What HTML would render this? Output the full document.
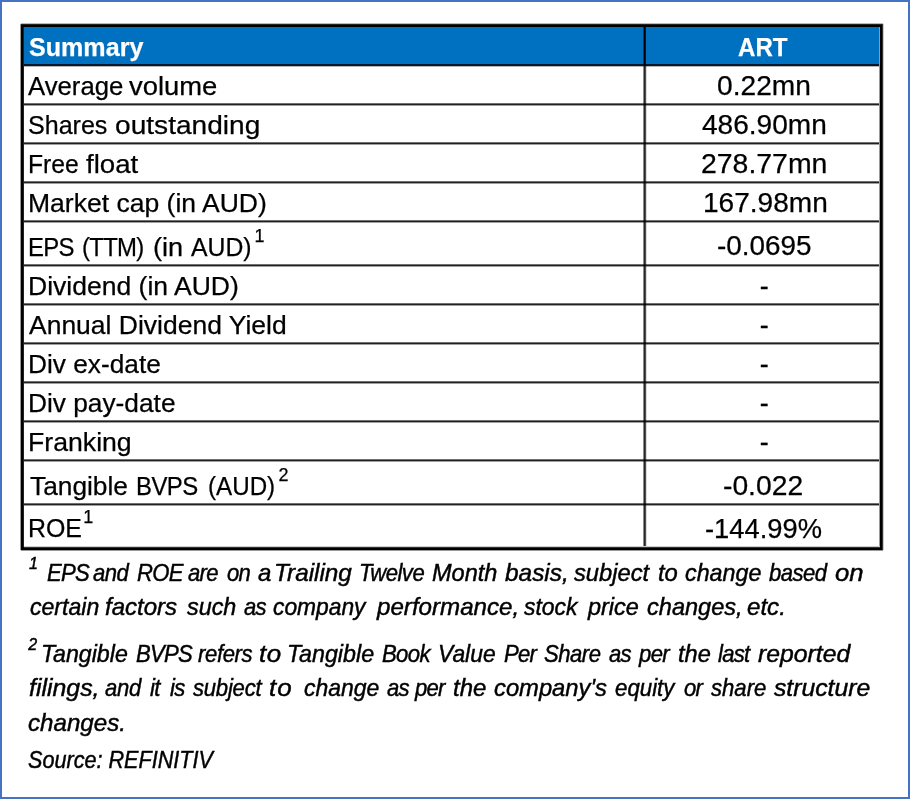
<!DOCTYPE html><html><head><meta charset="utf-8"><style>
html,body{margin:0;padding:0;background:#fff;}
body{width:910px;height:799px;position:relative;overflow:hidden;font-family:"Liberation Sans", sans-serif;color:#000;}
div{position:absolute;box-sizing:border-box;}
.ln{mix-blend-mode:multiply;}
.t{white-space:nowrap;line-height:30px;-webkit-text-stroke:0.25px currentColor;}
.hl{left:24px;width:856px;height:2px;background:#1e1e1e;}
</style></head><body>
<div style="left:0;top:0;width:910px;height:799px;border:2px solid #4472C4;"></div>
<div style="left:24px;top:27px;width:856px;height:37px;background:#0070C0;"></div>
<div class="ln" style="left:24px;top:103px;width:856px;height:3px;background:linear-gradient(#707070 0 1px,#202020 1px 2px,#a0a0a0 2px 3px);"></div>
<div class="ln" style="left:24px;top:142px;width:856px;height:3px;background:linear-gradient(#707070 0 1px,#202020 1px 2px,#a0a0a0 2px 3px);"></div>
<div class="ln" style="left:24px;top:181px;width:856px;height:3px;background:linear-gradient(#707070 0 1px,#202020 1px 2px,#a0a0a0 2px 3px);"></div>
<div class="ln" style="left:24px;top:220px;width:856px;height:3px;background:linear-gradient(#707070 0 1px,#202020 1px 2px,#a0a0a0 2px 3px);"></div>
<div class="ln" style="left:24px;top:264px;width:856px;height:3px;background:linear-gradient(#707070 0 1px,#202020 1px 2px,#a0a0a0 2px 3px);"></div>
<div class="ln" style="left:24px;top:303px;width:856px;height:3px;background:linear-gradient(#707070 0 1px,#202020 1px 2px,#a0a0a0 2px 3px);"></div>
<div class="ln" style="left:24px;top:342px;width:856px;height:3px;background:linear-gradient(#707070 0 1px,#202020 1px 2px,#a0a0a0 2px 3px);"></div>
<div class="ln" style="left:24px;top:381px;width:856px;height:3px;background:linear-gradient(#707070 0 1px,#202020 1px 2px,#a0a0a0 2px 3px);"></div>
<div class="ln" style="left:24px;top:420px;width:856px;height:3px;background:linear-gradient(#707070 0 1px,#202020 1px 2px,#a0a0a0 2px 3px);"></div>
<div class="ln" style="left:24px;top:459px;width:856px;height:3px;background:linear-gradient(#707070 0 1px,#202020 1px 2px,#a0a0a0 2px 3px);"></div>
<div class="ln" style="left:24px;top:503px;width:856px;height:3px;background:linear-gradient(#707070 0 1px,#202020 1px 2px,#a0a0a0 2px 3px);"></div>
<div class="ln" style="left:643px;top:64px;width:4px;height:483px;background:linear-gradient(90deg,#8c8c8c 0 1px,#262626 1px 2px,#505050 2px 3px,#dcdcdc 3px 4px);"></div>
<div style="left:643px;top:27px;width:3px;height:37px;background:linear-gradient(90deg,#003a66 0 1px,#000 1px 2px,#001a30 2px 3px);"></div>
<div class="ln" style="left:24px;top:64px;width:856px;height:3px;background:linear-gradient(#00182f 0 1px,#141414 1px 2px,#b8b4b2 2px 3px);"></div>
<div style="left:21px;top:24px;width:862px;height:526px;border:3px solid #000;"></div>
<div style="left:23px;top:27px;width:1px;height:520px;background:#222;"></div>
<div style="left:20px;top:24px;width:1px;height:526px;background:#999;"></div>
<div style="left:21px;top:23px;width:862px;height:1px;background:#bbb;"></div>
<div style="left:21px;top:24px;width:862px;height:1px;background:#222;"></div>
<div style="left:879px;top:27px;width:1px;height:520px;background:#999;"></div>
<div style="left:882px;top:24px;width:1px;height:526px;background:#333;"></div>
<div style="left:883px;top:24px;width:1px;height:526px;background:#ccc;"></div>
<div style="left:24px;top:546px;width:856px;height:1px;background:#ccc;"></div>
<div style="left:24px;top:547px;width:856px;height:1px;background:#333;"></div>
<div style="left:21px;top:550px;width:862px;height:1px;background:#999;"></div>
<div class="t" style="left:28.10px;top:70.80px;font-size:26.00px;letter-spacing:0.000px;transform:scaleX(0.9895);transform-origin:0 50%;">Average</div>
<div class="t" style="left:129.20px;top:70.80px;font-size:26.00px;letter-spacing:0.000px;transform:scaleX(1.0533);transform-origin:0 50%;">volume</div>
<div class="t" style="left:28.44px;top:109.80px;font-size:26.00px;letter-spacing:0.000px;transform:scaleX(0.9634);transform-origin:0 50%;">Shares</div>
<div class="t" style="left:115.22px;top:109.80px;font-size:26.00px;letter-spacing:0.015px;transform:scaleX(1.0800);transform-origin:0 50%;">outstanding</div>
<div class="t" style="left:28.30px;top:148.80px;font-size:26.00px;letter-spacing:0.000px;transform:scaleX(0.9490);transform-origin:0 50%;">Free</div>
<div class="t" style="left:86.30px;top:148.80px;font-size:26.00px;letter-spacing:0.000px;transform:scaleX(1.0637);transform-origin:0 50%;">float</div>
<div class="t" style="left:27.98px;top:187.80px;font-size:26.00px;letter-spacing:0.000px;transform:scaleX(1.0204);transform-origin:0 50%;">Market cap (in AUD)</div>
<div class="t" style="left:28.36px;top:231.80px;font-size:26.00px;letter-spacing:-0.800px;transform:scaleX(0.9200);transform-origin:0 50%;">EPS</div>
<div class="t" style="left:82.28px;top:231.80px;font-size:26.00px;letter-spacing:-0.748px;transform:scaleX(0.9200);transform-origin:0 50%;">(TTM)</div>
<div class="t" style="left:153.40px;top:231.80px;font-size:26.00px;letter-spacing:0.000px;transform:scaleX(1.0441);transform-origin:0 50%;">(in</div>
<div class="t" style="left:190.80px;top:231.80px;font-size:26.00px;letter-spacing:0.000px;transform:scaleX(0.9540);transform-origin:0 50%;">AUD)</div>
<div class="t" style="left:27.98px;top:270.80px;font-size:26.00px;letter-spacing:0.000px;transform:scaleX(1.0203);transform-origin:0 50%;">Dividend (in AUD)</div>
<div class="t" style="left:28.82px;top:309.80px;font-size:26.00px;letter-spacing:0.000px;transform:scaleX(1.0185);transform-origin:0 50%;">Annual Dividend Yield</div>
<div class="t" style="left:27.98px;top:348.80px;font-size:26.00px;letter-spacing:0.000px;transform:scaleX(1.0099);transform-origin:0 50%;">Div ex-date</div>
<div class="t" style="left:27.98px;top:387.80px;font-size:26.00px;letter-spacing:0.000px;transform:scaleX(1.0105);transform-origin:0 50%;">Div pay-date</div>
<div class="t" style="left:27.94px;top:426.80px;font-size:26.00px;letter-spacing:0.000px;transform:scaleX(1.0251);transform-origin:0 50%;">Franking</div>
<div class="t" style="left:30.20px;top:470.80px;font-size:26.00px;letter-spacing:0.000px;transform:scaleX(1.0115);transform-origin:0 50%;">Tangible</div>
<div class="t" style="left:135.86px;top:470.80px;font-size:26.00px;letter-spacing:-0.603px;transform:scaleX(0.9200);transform-origin:0 50%;">BVPS</div>
<div class="t" style="left:208.27px;top:470.80px;font-size:26.00px;letter-spacing:0.000px;transform:scaleX(0.9298);transform-origin:0 50%;">(AUD)</div>
<div class="t" style="left:28.11px;top:512.80px;font-size:26.00px;letter-spacing:0.000px;transform:scaleX(0.9576);transform-origin:0 50%;">ROE</div>
<div class="t" style="left:717.19px;top:70.80px;font-size:27.00px;letter-spacing:0.000px;transform:scaleX(1.0424);transform-origin:0 50%;">0.22mn</div>
<div class="t" style="left:702.00px;top:109.80px;font-size:27.00px;letter-spacing:0.000px;transform:scaleX(1.0389);transform-origin:0 50%;">486.90mn</div>
<div class="t" style="left:701.18px;top:148.80px;font-size:27.00px;letter-spacing:0.000px;transform:scaleX(1.0523);transform-origin:0 50%;">278.77mn</div>
<div class="t" style="left:702.78px;top:187.80px;font-size:27.00px;letter-spacing:0.000px;transform:scaleX(1.0388);transform-origin:0 50%;">167.98mn</div>
<div class="t" style="left:716.59px;top:231.30px;font-size:27.00px;letter-spacing:0.000px;transform:scaleX(1.0324);transform-origin:0 50%;">-0.0695</div>
<div class="t" style="left:759.69px;top:270.80px;font-size:27.00px;letter-spacing:0.000px;">-</div>
<div class="t" style="left:759.69px;top:309.80px;font-size:27.00px;letter-spacing:0.000px;">-</div>
<div class="t" style="left:759.69px;top:348.80px;font-size:27.00px;letter-spacing:0.000px;">-</div>
<div class="t" style="left:759.69px;top:387.80px;font-size:27.00px;letter-spacing:0.000px;">-</div>
<div class="t" style="left:759.69px;top:426.80px;font-size:27.00px;letter-spacing:0.000px;">-</div>
<div class="t" style="left:723.41px;top:470.70px;font-size:27.00px;letter-spacing:0.000px;transform:scaleX(1.0464);transform-origin:0 50%;">-0.022</div>
<div class="t" style="left:704.76px;top:514.30px;font-size:27.00px;letter-spacing:0.000px;transform:scaleX(1.0119);transform-origin:0 50%;">-144.99%</div>
<div class="t" style="left:254.54px;top:221.00px;font-size:18.00px;letter-spacing:0.000px;">1</div>
<div class="t" style="left:278.38px;top:460.00px;font-size:18.00px;letter-spacing:0.000px;">2</div>
<div class="t" style="left:83.23px;top:502.00px;font-size:18.00px;letter-spacing:0.000px;">1</div>
<div class="t" style="left:28.68px;top:32.00px;font-size:26.00px;letter-spacing:0.000px;font-weight:bold;color:#fff;transform:scaleX(0.9650);transform-origin:0 50%;">Summary</div>
<div class="t" style="left:738.22px;top:32.30px;font-size:26.00px;letter-spacing:0.000px;font-weight:bold;color:#fff;transform:scaleX(0.9259);transform-origin:0 50%;">ART</div>
<div class="t" style="left:29.00px;top:548.50px;font-size:16.00px;letter-spacing:0.000px;font-style:italic;-webkit-text-stroke:0.45px currentColor;">1</div>
<div class="t" style="left:28.30px;top:629.50px;font-size:16.00px;letter-spacing:0.000px;font-style:italic;-webkit-text-stroke:0.45px currentColor;">2</div>
<div class="t" style="left:28.45px;top:707.50px;font-size:24.00px;letter-spacing:0.000px;font-style:italic;-webkit-text-stroke:0.45px currentColor;transform:scaleX(1.0054);transform-origin:0 50%;">changes.</div>
<div class="t" style="left:28.45px;top:745.00px;font-size:24.00px;letter-spacing:0.000px;font-style:italic;-webkit-text-stroke:0.45px currentColor;transform:scaleX(0.9007);transform-origin:0 50%;">Source: REFINITIV</div>
<div class="t" style="left:46.50px;top:558.00px;font-size:24.00px;letter-spacing:-0.800px;font-style:italic;-webkit-text-stroke:0.45px currentColor;transform:scaleX(0.9200);transform-origin:0 50%;">EPS</div>
<div class="t" style="left:92.70px;top:558.00px;font-size:24.00px;letter-spacing:-0.619px;font-style:italic;-webkit-text-stroke:0.45px currentColor;transform:scaleX(0.9200);transform-origin:0 50%;">and</div>
<div class="t" style="left:137.00px;top:558.00px;font-size:24.00px;letter-spacing:-0.800px;font-style:italic;-webkit-text-stroke:0.45px currentColor;transform:scaleX(0.9200);transform-origin:0 50%;">ROE</div>
<div class="t" style="left:188.40px;top:558.00px;font-size:24.00px;letter-spacing:-0.757px;font-style:italic;-webkit-text-stroke:0.45px currentColor;transform:scaleX(0.9200);transform-origin:0 50%;">are</div>
<div class="t" style="left:226.60px;top:558.00px;font-size:24.00px;letter-spacing:-0.800px;font-style:italic;-webkit-text-stroke:0.45px currentColor;transform:scaleX(0.9200);transform-origin:0 50%;">on</div>
<div class="t" style="left:258.00px;top:558.00px;font-size:24.00px;letter-spacing:0.000px;font-style:italic;-webkit-text-stroke:0.45px currentColor;">a</div>
<div class="t" style="left:273.98px;top:558.00px;font-size:24.00px;letter-spacing:0.000px;font-style:italic;-webkit-text-stroke:0.45px currentColor;transform:scaleX(1.0124);transform-origin:0 50%;">Trailing</div>
<div class="t" style="left:358.66px;top:558.00px;font-size:24.00px;letter-spacing:-0.574px;font-style:italic;-webkit-text-stroke:0.45px currentColor;transform:scaleX(0.9200);transform-origin:0 50%;">Twelve</div>
<div class="t" style="left:432.00px;top:558.00px;font-size:24.00px;letter-spacing:0.000px;font-style:italic;-webkit-text-stroke:0.45px currentColor;transform:scaleX(0.9796);transform-origin:0 50%;">Month</div>
<div class="t" style="left:505.00px;top:558.00px;font-size:24.00px;letter-spacing:0.000px;font-style:italic;-webkit-text-stroke:0.45px currentColor;transform:scaleX(1.0162);transform-origin:0 50%;">basis,</div>
<div class="t" style="left:574.00px;top:558.00px;font-size:24.00px;letter-spacing:0.000px;font-style:italic;-webkit-text-stroke:0.45px currentColor;transform:scaleX(0.9887);transform-origin:0 50%;">subject</div>
<div class="t" style="left:657.51px;top:558.00px;font-size:24.00px;letter-spacing:0.000px;font-style:italic;-webkit-text-stroke:0.45px currentColor;transform:scaleX(0.9910);transform-origin:0 50%;">to</div>
<div class="t" style="left:685.00px;top:558.00px;font-size:24.00px;letter-spacing:0.000px;font-style:italic;-webkit-text-stroke:0.45px currentColor;transform:scaleX(0.9695);transform-origin:0 50%;">change</div>
<div class="t" style="left:769.00px;top:558.00px;font-size:24.00px;letter-spacing:-0.560px;font-style:italic;-webkit-text-stroke:0.45px currentColor;transform:scaleX(0.9200);transform-origin:0 50%;">based</div>
<div class="t" style="left:834.66px;top:558.00px;font-size:24.00px;letter-spacing:0.000px;font-style:italic;-webkit-text-stroke:0.45px currentColor;transform:scaleX(1.0703);transform-origin:0 50%;">on</div>
<div class="t" style="left:29.50px;top:592.00px;font-size:24.00px;letter-spacing:0.000px;font-style:italic;-webkit-text-stroke:0.45px currentColor;transform:scaleX(0.9611);transform-origin:0 50%;">certain</div>
<div class="t" style="left:105.44px;top:592.00px;font-size:24.00px;letter-spacing:0.000px;font-style:italic;-webkit-text-stroke:0.45px currentColor;transform:scaleX(1.0011);transform-origin:0 50%;">factors</div>
<div class="t" style="left:186.50px;top:592.00px;font-size:24.00px;letter-spacing:0.000px;font-style:italic;-webkit-text-stroke:0.45px currentColor;transform:scaleX(0.9732);transform-origin:0 50%;">such</div>
<div class="t" style="left:243.50px;top:592.00px;font-size:24.00px;letter-spacing:-0.800px;font-style:italic;-webkit-text-stroke:0.45px currentColor;transform:scaleX(0.9200);transform-origin:0 50%;">as</div>
<div class="t" style="left:273.30px;top:592.00px;font-size:24.00px;letter-spacing:0.000px;font-style:italic;-webkit-text-stroke:0.45px currentColor;transform:scaleX(0.9499);transform-origin:0 50%;">company</div>
<div class="t" style="left:376.71px;top:592.00px;font-size:24.00px;letter-spacing:0.000px;font-style:italic;-webkit-text-stroke:0.45px currentColor;transform:scaleX(1.0055);transform-origin:0 50%;">performance,</div>
<div class="t" style="left:524.20px;top:592.00px;font-size:24.00px;letter-spacing:0.000px;font-style:italic;-webkit-text-stroke:0.45px currentColor;transform:scaleX(0.9532);transform-origin:0 50%;">stock</div>
<div class="t" style="left:588.48px;top:592.00px;font-size:24.00px;letter-spacing:0.000px;font-style:italic;-webkit-text-stroke:0.45px currentColor;transform:scaleX(0.9778);transform-origin:0 50%;">price</div>
<div class="t" style="left:647.00px;top:592.00px;font-size:24.00px;letter-spacing:0.000px;font-style:italic;-webkit-text-stroke:0.45px currentColor;transform:scaleX(0.9817);transform-origin:0 50%;">changes,</div>
<div class="t" style="left:747.20px;top:592.00px;font-size:24.00px;letter-spacing:0.000px;font-style:italic;-webkit-text-stroke:0.45px currentColor;transform:scaleX(1.0051);transform-origin:0 50%;">etc.</div>
<div class="t" style="left:41.07px;top:638.50px;font-size:24.00px;letter-spacing:0.000px;font-style:italic;-webkit-text-stroke:0.45px currentColor;transform:scaleX(0.9656);transform-origin:0 50%;">Tangible</div>
<div class="t" style="left:135.50px;top:638.50px;font-size:24.00px;letter-spacing:-0.800px;font-style:italic;-webkit-text-stroke:0.45px currentColor;transform:scaleX(0.9200);transform-origin:0 50%;">BVPS</div>
<div class="t" style="left:197.70px;top:638.50px;font-size:24.00px;letter-spacing:-0.400px;font-style:italic;-webkit-text-stroke:0.45px currentColor;transform:scaleX(0.9200);transform-origin:0 50%;">refers</div>
<div class="t" style="left:259.22px;top:638.50px;font-size:24.00px;letter-spacing:0.499px;font-style:italic;-webkit-text-stroke:0.45px currentColor;transform:scaleX(1.0800);transform-origin:0 50%;">to</div>
<div class="t" style="left:287.06px;top:638.50px;font-size:24.00px;letter-spacing:0.000px;font-style:italic;-webkit-text-stroke:0.45px currentColor;transform:scaleX(0.9690);transform-origin:0 50%;">Tangible</div>
<div class="t" style="left:381.80px;top:638.50px;font-size:24.00px;letter-spacing:-0.676px;font-style:italic;-webkit-text-stroke:0.45px currentColor;transform:scaleX(0.9200);transform-origin:0 50%;">Book</div>
<div class="t" style="left:438.19px;top:638.50px;font-size:24.00px;letter-spacing:0.000px;font-style:italic;-webkit-text-stroke:0.45px currentColor;transform:scaleX(0.9528);transform-origin:0 50%;">Value</div>
<div class="t" style="left:503.50px;top:638.50px;font-size:24.00px;letter-spacing:-0.800px;font-style:italic;-webkit-text-stroke:0.45px currentColor;transform:scaleX(0.9200);transform-origin:0 50%;">Per</div>
<div class="t" style="left:543.66px;top:638.50px;font-size:24.00px;letter-spacing:-0.543px;font-style:italic;-webkit-text-stroke:0.45px currentColor;transform:scaleX(0.9200);transform-origin:0 50%;">Share</div>
<div class="t" style="left:609.30px;top:638.50px;font-size:24.00px;letter-spacing:-0.800px;font-style:italic;-webkit-text-stroke:0.45px currentColor;transform:scaleX(0.9200);transform-origin:0 50%;">as</div>
<div class="t" style="left:638.92px;top:638.50px;font-size:24.00px;letter-spacing:-0.685px;font-style:italic;-webkit-text-stroke:0.45px currentColor;transform:scaleX(0.9200);transform-origin:0 50%;">per</div>
<div class="t" style="left:677.52px;top:638.50px;font-size:24.00px;letter-spacing:0.000px;font-style:italic;-webkit-text-stroke:0.45px currentColor;transform:scaleX(0.9839);transform-origin:0 50%;">the</div>
<div class="t" style="left:718.00px;top:638.50px;font-size:24.00px;letter-spacing:-0.800px;font-style:italic;-webkit-text-stroke:0.45px currentColor;transform:scaleX(0.9200);transform-origin:0 50%;">last</div>
<div class="t" style="left:757.60px;top:638.50px;font-size:24.00px;letter-spacing:0.000px;font-style:italic;-webkit-text-stroke:0.45px currentColor;transform:scaleX(1.0317);transform-origin:0 50%;">reported</div>
<div class="t" style="left:28.70px;top:672.50px;font-size:24.00px;letter-spacing:0.000px;font-style:italic;-webkit-text-stroke:0.45px currentColor;transform:scaleX(1.0358);transform-origin:0 50%;">filings,</div>
<div class="t" style="left:105.20px;top:672.50px;font-size:24.00px;letter-spacing:-0.348px;font-style:italic;-webkit-text-stroke:0.45px currentColor;transform:scaleX(0.9200);transform-origin:0 50%;">and</div>
<div class="t" style="left:150.00px;top:672.50px;font-size:24.00px;letter-spacing:-0.800px;font-style:italic;-webkit-text-stroke:0.45px currentColor;transform:scaleX(0.9200);transform-origin:0 50%;">it</div>
<div class="t" style="left:169.50px;top:672.50px;font-size:24.00px;letter-spacing:-0.800px;font-style:italic;-webkit-text-stroke:0.45px currentColor;transform:scaleX(0.9200);transform-origin:0 50%;">is</div>
<div class="t" style="left:192.50px;top:672.50px;font-size:24.00px;letter-spacing:-0.251px;font-style:italic;-webkit-text-stroke:0.45px currentColor;transform:scaleX(0.9200);transform-origin:0 50%;">subject</div>
<div class="t" style="left:269.22px;top:672.50px;font-size:24.00px;letter-spacing:1.000px;font-style:italic;-webkit-text-stroke:0.45px currentColor;transform:scaleX(1.0800);transform-origin:0 50%;">to</div>
<div class="t" style="left:304.00px;top:672.50px;font-size:24.00px;letter-spacing:0.000px;font-style:italic;-webkit-text-stroke:0.45px currentColor;transform:scaleX(0.9567);transform-origin:0 50%;">change</div>
<div class="t" style="left:387.00px;top:672.50px;font-size:24.00px;letter-spacing:-0.800px;font-style:italic;-webkit-text-stroke:0.45px currentColor;transform:scaleX(0.9200);transform-origin:0 50%;">as</div>
<div class="t" style="left:415.42px;top:672.50px;font-size:24.00px;letter-spacing:-0.800px;font-style:italic;-webkit-text-stroke:0.45px currentColor;transform:scaleX(0.9200);transform-origin:0 50%;">per</div>
<div class="t" style="left:453.00px;top:672.50px;font-size:24.00px;letter-spacing:0.000px;font-style:italic;-webkit-text-stroke:0.45px currentColor;transform:scaleX(0.9995);transform-origin:0 50%;">the</div>
<div class="t" style="left:494.00px;top:672.50px;font-size:24.00px;letter-spacing:0.000px;font-style:italic;-webkit-text-stroke:0.45px currentColor;transform:scaleX(0.9898);transform-origin:0 50%;">company's</div>
<div class="t" style="left:614.80px;top:672.50px;font-size:24.00px;letter-spacing:0.000px;font-style:italic;-webkit-text-stroke:0.45px currentColor;transform:scaleX(0.9282);transform-origin:0 50%;">equity</div>
<div class="t" style="left:684.10px;top:672.50px;font-size:24.00px;letter-spacing:-0.800px;font-style:italic;-webkit-text-stroke:0.45px currentColor;transform:scaleX(0.9200);transform-origin:0 50%;">or</div>
<div class="t" style="left:711.40px;top:672.50px;font-size:24.00px;letter-spacing:0.000px;font-style:italic;-webkit-text-stroke:0.45px currentColor;transform:scaleX(0.9215);transform-origin:0 50%;">share</div>
<div class="t" style="left:774.40px;top:672.50px;font-size:24.00px;letter-spacing:0.000px;font-style:italic;-webkit-text-stroke:0.45px currentColor;transform:scaleX(1.0310);transform-origin:0 50%;">structure</div>
</body></html>
